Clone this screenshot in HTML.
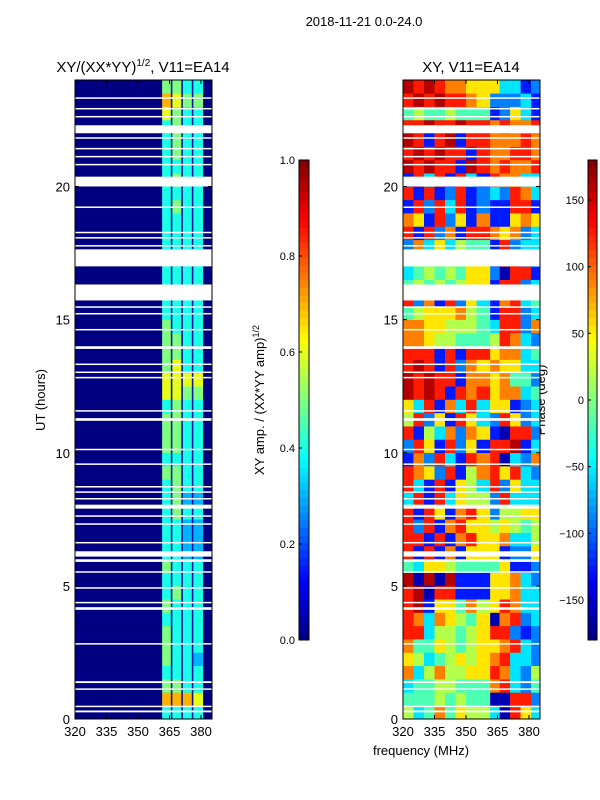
<!DOCTYPE html>
<html><head><meta charset="utf-8">
<style>
html,body{margin:0;padding:0;background:#fff;}
svg{display:block;font-family:"Liberation Sans",sans-serif;}
</style></head>
<body>
<svg id="fig" width="600" height="800" viewBox="0 0 600 800" xmlns="http://www.w3.org/2000/svg">
<text x="364" y="26" font-size="13" text-anchor="middle">2018-11-21 0.0-24.0</text>
<text x="143" y="72" font-size="15" text-anchor="middle">XY/(XX*YY)<tspan font-size="10" dy="-6">1/2</tspan><tspan dy="6">, V11=EA14</tspan></text>
<text x="471" y="72" font-size="15" text-anchor="middle">XY, V11=EA14</text>
<text transform="translate(45,400) rotate(-90)" font-size="13" text-anchor="middle">UT (hours)</text>
<text x="421" y="755" font-size="13" text-anchor="middle">frequency (MHz)</text>
<text transform="translate(264,400) rotate(-90)" font-size="13" text-anchor="middle">XY amp. / (XX*YY amp)<tspan font-size="9" dy="-5">1/2</tspan></text>
<text transform="translate(545,400) rotate(-90)" font-size="13" text-anchor="middle">Phase (deg)</text>
<g id="layer"></g>
</svg>
<script>
const freqEdges=[320,325,330,335,340,345,350,355,361.5,366,371,376,381,385];
const timeStep=0.5;
const ampRows=["0000000044440","0000000077760","0000000055440","0000000044440","0000000054430","0000000054440","0000000054440","0000000044440","0000000054440","0000000045440","0000000044440","0000000054440","0000000044330","0000000044330","0000000044330","0000000045440","0000000045330","0000000045440","0000000055440","0000000044440","0000000055440","0000000055440","0000000055440","0000000045440","0000000066550","0000000066660","0000000056440","0000000055440","0000000055440","0000000054440","0000000044440","0000000044440","0000000044440","0000000044440","0000000044440","0000000044440","0000000044440","0000000044440","0000000045440","0000000044440","0000000045440","0000000044440","0000000045440","0000000045440","0000000045440","0000000065440","0000000076550","0000000055440"];
const phaseRows=["5347465530863","4445454400882","3445544478324","7357556687325","6534565678332","7446545667832","8835545688212","8737654607823","8916647568733","8908811166733","9090911166732","4366544446112","8181716661226","8818178667335","8281786656545","8186178625566","3818365528333","8318165382633","8762815786832","1728318780327","2861826188913","8153727610882","5826186328623","6381738366123","9898187867734","9898817767442","8981827676633","8881818867734","7765544458732","7766555438827","4566675418823","8271826317834","4545456618823","3454546620881","4545456618823","2736354418233","8182718876723","7618261711676","1828381211881","8181281232873","1838183187733","9898819878778","8989881877887","9818918877787","8898898878778","4544544412631","8989887622231","9898776663312"];
const flagStart=[0.25,0.45,1.1,1.35,2.8,4.1,4.35,4.9,5.5,5.9,6.1,6.6,7.3,7.6,7.9,8.25,8.5,8.7,9.55,10.1,11.2,11.55,12.8,13.0,13.3,13.9,14.6,15.2,15.45,15.72,17.0,17.75,18.05,18.25,19.2,20.0,20.8,21.1,21.4,21.8,22.0,22.6,22.9,23.3];
const flagEnd=[0.32,0.5,1.15,1.42,2.85,4.2,4.4,4.95,5.55,6.0,6.3,6.65,7.35,7.65,8.05,8.3,8.55,8.75,9.6,10.15,11.3,11.6,12.85,13.05,13.35,14.0,14.65,15.25,15.5,16.32,17.64,17.8,18.1,18.3,19.25,20.37,20.85,21.15,21.45,21.85,22.3,22.65,22.95,23.35];
const gapFreqs=[366,371,376];
const xTicks=[320,335,350,365,380];
const yTicks=[0,5,10,15,20];
const ampTicks=[0.0,0.2,0.4,0.6,0.8,1.0];
const phaseTicks=[-150,-100,-50,0,50,100,150];

const NS="http://www.w3.org/2000/svg";
const layer=document.getElementById('layer');
function jet(v){v=Math.max(0,Math.min(1,v));
 const r=Math.max(0,Math.min(1,1.5-Math.abs(4*v-3))),g=Math.max(0,Math.min(1,1.5-Math.abs(4*v-2))),b=Math.max(0,Math.min(1,1.5-Math.abs(4*v-1)));
 return `rgb(${Math.round(r*255)},${Math.round(g*255)},${Math.round(b*255)})`;}
function el(tag,attrs,parent){const e=document.createElementNS(NS,tag);for(const k in attrs)e.setAttribute(k,attrs[k]);(parent||layer).appendChild(e);return e;}
const Y0=719,Y1=80;
function yS(h){return Y0-(h/24)*(Y0-Y1);}
function makeX(x0){return f=>x0+(f-320)*2.1;}
const panels=[{x0:75,x1:212,rows:ampRows,val:c=>(+c)/10,name:'amp'},{x0:403,x1:540,rows:phaseRows,val:c=>((+c)+0.5)/10,name:'phase'}];
panels.forEach(p=>{
 const xS=makeX(p.x0);
 const g=el('g',{});
 
 
 p.rows.forEach((row,i)=>{
  for(let j=0;j<freqEdges.length-1;j++){
   const xa=xS(freqEdges[j]),xb=Math.min(p.x1,xS(freqEdges[j+1]));
   const r=el('rect',{x:xa,y:yS((i+1)*timeStep),width:xb-xa+0.3,height:yS(i*timeStep)-yS((i+1)*timeStep)+0.3,fill:jet(p.val(row[j]))},g);
   
   
  }
 });
 if(p.name==='amp'){gapFreqs.forEach(f=>{const r=el('rect',{x:xS(f)-0.8,y:Y1,width:1.6,height:Y0-Y1,fill:'#0000a0',opacity:0.9},g);
  
  });}
 flagStart.forEach((s,k)=>{const r=el('rect',{x:p.x0,y:yS(flagEnd[k]),width:p.x1-p.x0,height:Math.max(1.5,yS(s)-yS(flagEnd[k])),fill:'#fff'},g);
  
  });
 const fr=el('rect',{x:p.x0,y:Y1,width:p.x1-p.x0,height:Y0-Y1,fill:'none',stroke:'#000','stroke-width':1});
 
 
 xTicks.forEach(t=>{const x=xS(t);
  el('line',{x1:x,y1:Y0,x2:x,y2:Y0-4,stroke:'#000'});el('line',{x1:x,y1:Y1,x2:x,y2:Y1+4,stroke:'#000'});
  const tx=el('text',{x:x,y:Y0+17,'font-size':13,'text-anchor':'middle'});tx.textContent=t;
  
  });
 yTicks.forEach(t=>{const y=yS(t);
  el('line',{x1:p.x0,y1:y,x2:p.x0+4,y2:y,stroke:'#000'});el('line',{x1:p.x1,y1:y,x2:p.x1-4,y2:y,stroke:'#000'});
  const tx=el('text',{x:p.x0-5,y:y+5,'font-size':13,'text-anchor':'end'});tx.textContent=t;
  
  });
});
const cbs=[{x:299,w:10,ticks:ampTicks,min:0,max:1,name:'amp-colorbar',fmt:t=>t.toFixed(1)},{x:588,w:9,ticks:phaseTicks,min:-180,max:180,name:'phase-colorbar',fmt:t=>t<0?'\u2212'+(-t):''+t}];
const CB0=640,CB1=160;
cbs.forEach(c=>{
 const g=el('g',{});
 
 
 const n=64;
 for(let i=0;i<n;i++){const y=CB0-(i+1)*(CB0-CB1)/n;el('rect',{x:c.x,y:y,width:c.w,height:(CB0-CB1)/n+0.4,fill:jet((i+0.5)/n)},g);}
 el('rect',{x:c.x,y:CB1,width:c.w,height:CB0-CB1,fill:'none',stroke:'#000'},g);
 c.ticks.forEach(t=>{const y=CB0-(t-c.min)/(c.max-c.min)*(CB0-CB1);
  el('line',{x1:c.x,y1:y,x2:c.x+3,y2:y,stroke:'#000'},g);
  const tx=el('text',{x:c.x-4,y:y+4,'font-size':11,'text-anchor':'end'},g);tx.textContent=c.fmt(t);
  
  });
});
</script>
</body></html>
